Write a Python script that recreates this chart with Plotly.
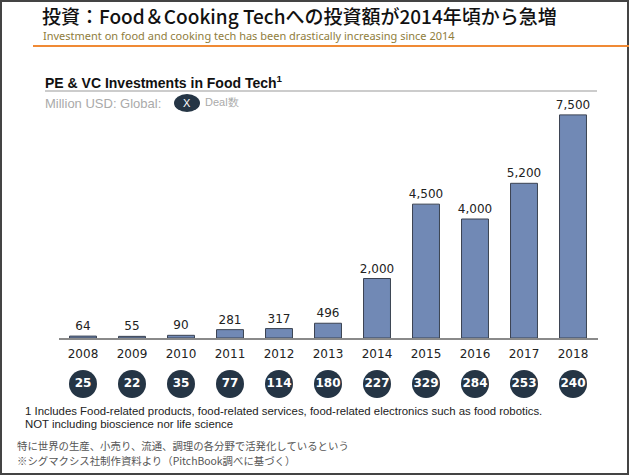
import plotly.graph_objects as go

W, H = 630, 476

years = ["2008", "2009", "2010", "2011", "2012", "2013", "2014", "2015", "2016", "2017", "2018"]
invest_musd = [64, 55, 90, 281, 317, 496, 2000, 4500, 4000, 5200, 7500]
deal_counts = [25, 22, 35, 77, 114, 180, 227, 329, 284, 253, 240]

title_jp = "投資：Food＆Cooking Techへの投資額が2014年頃から急増"
subtitle_en = "Investment on food and cooking tech has been drastically increasing since 2014"
chart_title = "PE & VC Investments in Food Tech<sup>1</sup>"
footnote_lines = ["1 Includes Food-related products, food-related services, food-related electronics such as food robotics.",
                  "NOT including bioscience nor life science"]
note_jp_lines = ["特に世界の生産、小売り、流通、調理の各分野で活発化しているという",
                 "※シグマクシス社制作資料より（PitchBook調べに基づく）"]


def px(x):
    return x / W


def py(y):
    return 1 - y / H


BAR = "#7189b5"
NAVY = "#253545"

fig = go.Figure()

fig.add_trace(go.Bar(
    x=years, y=invest_musd,
    marker=dict(color=BAR, line=dict(color="#3b4352", width=1)),
    text=[f"{v:,}" for v in invest_musd],
    textposition="outside",
    constraintext="none",
    textfont=dict(family="DejaVu Sans", size=12, color="#222222"),
    cliponaxis=False,
    width=0.55,
    hoverinfo="skip",
    showlegend=False,
))

# deal count bubbles
fig.add_trace(go.Scatter(
    x=years, y=[0.5] * len(years), yaxis="y2",
    mode="markers+text",
    marker=dict(size=28, color=NAVY, line=dict(width=0)),
    text=[str(d) for d in deal_counts],
    textposition="middle center",
    textfont=dict(family="DejaVu Sans", size=12, color="white", weight="bold"),
    hoverinfo="skip",
    showlegend=False,
))

fig.update_layout(
    width=W, height=H,
    margin=dict(l=0, r=0, t=0, b=0),
    paper_bgcolor="white", plot_bgcolor="white",
    xaxis=dict(
        domain=[px(58.5), px(597.5)], range=[-0.5, 10.5], anchor="y",
        showline=True, linecolor="#8a8a8a", linewidth=1.5,
        showgrid=False, ticks="", ticklabelstandoff=4,
        tickfont=dict(family="DejaVu Sans", size=12, color="#222222"),
    ),
    yaxis=dict(
        domain=[py(338), py(100)], range=[0, 8000],
        visible=False, showgrid=False, zeroline=False,
    ),
    yaxis2=dict(
        domain=[py(398), py(370)], range=[0, 1],
        visible=False, showgrid=False, zeroline=False,
    ),
    bargap=0.45,
)

# frame and rules
fig.add_shape(type="rect", xref="paper", yref="paper", x0=px(1), x1=px(628), y0=py(1), y1=py(474),
              line=dict(color="#444444", width=2))
fig.add_shape(type="line", xref="paper", yref="paper", x0=px(33), x1=px(629), y0=py(46), y1=py(46),
              line=dict(color="#f08a35", width=2))
fig.add_shape(type="line", xref="paper", yref="paper", x0=px(45), x1=px(597), y0=py(91), y1=py(91),
              line=dict(color="#cccccc", width=2))
fig.add_shape(type="circle", xref="paper", yref="paper", x0=px(174), x1=px(200), y0=py(94), y1=py(112),
              fillcolor=NAVY, line=dict(width=0))


def note(x, y, text, size, color, family, weight="normal", anchor="left"):
    fig.add_annotation(xref="paper", yref="paper", x=px(x), y=py(y), text=text, showarrow=False,
                       xanchor=anchor, yanchor="middle", align="left",
                       font=dict(family=family, size=size, color=color, weight=weight))


note(40, 15, title_jp, 19, "#111111", "Noto Sans CJK JP", 500)
note(41, 36, subtitle_en, 11, "#8f7d3c", "Noto Sans")
note(43, 82, chart_title, 14, "#111111", "Liberation Sans", "bold")
note(43, 103, "Million USD: Global:", 13, "#aaaaaa", "Liberation Sans")
note(187, 103, "X", 11, "white", "Liberation Sans", anchor="center")
note(203, 102, "Deal数", 11, "#aaaaaa", "Liberation Sans")
for i, line in enumerate(footnote_lines):
    note(23, 411 + 13 * i, line, 11.4, "#222222", "Liberation Sans")
for i, line in enumerate(note_jp_lines):
    note(15, 445 + 15 * i, line, 10.4, "#555555", "Noto Sans CJK JP")

fig.write_html("out.html", config={"displayModeBar": False},
               post_script="document.body.style.margin='0';")
